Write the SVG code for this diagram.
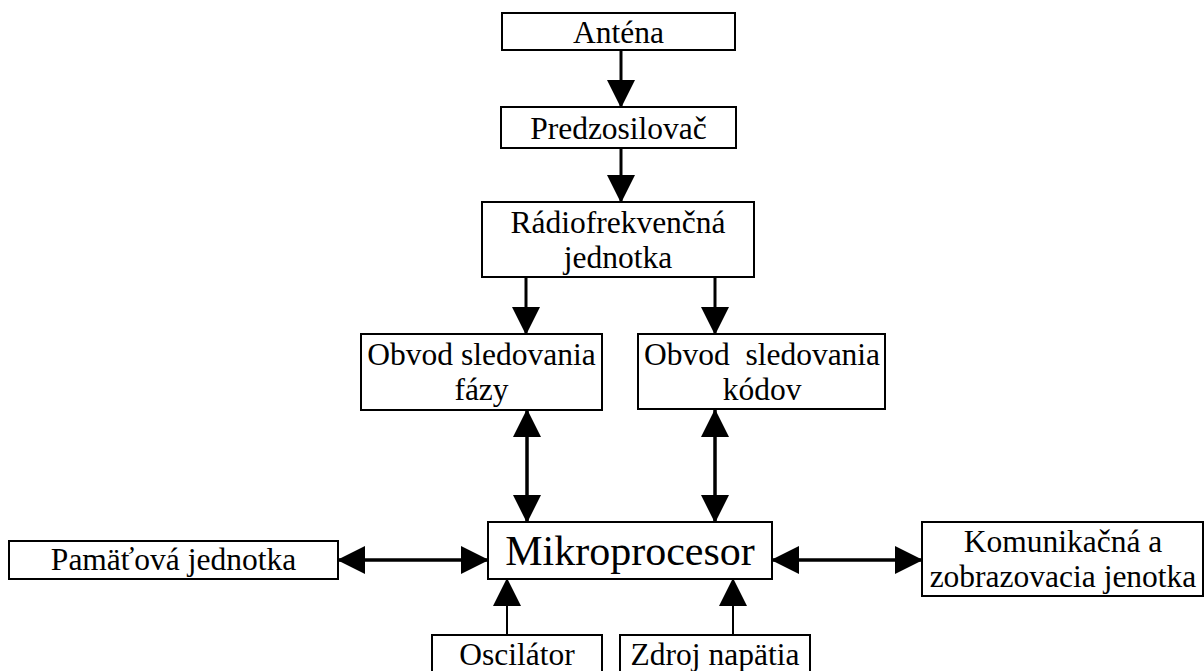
<svg xmlns="http://www.w3.org/2000/svg" width="1204" height="671" viewBox="0 0 1204 671">
<style>
.box{fill:#fff;stroke:#000;stroke-width:2}
.t{font-family:"Liberation Serif","Times New Roman",serif;font-size:31.5px;fill:#000;text-anchor:middle}
.big{font-size:42px}
.c{stroke:#000;fill:none}
.w3{stroke-width:3}
.w4{stroke-width:3.5}
.w2{stroke-width:2}
</style>
<defs>
<marker id="ah" markerUnits="userSpaceOnUse" markerWidth="28" markerHeight="28" refX="27" refY="14" orient="auto-start-reverse" viewBox="0 0 28 28">
<path d="M0,0 L28,14 L0,28 Z" fill="#000"/>
</marker>
</defs>
<rect width="1204" height="671" fill="#fff"/>
<g id="connectors">
<line class="c w3" x1="621" y1="50" x2="621" y2="107" marker-end="url(#ah)"/>
<line class="c w3" x1="621" y1="148" x2="621" y2="202" marker-end="url(#ah)"/>
<line class="c w3" x1="526" y1="277" x2="526" y2="334" marker-end="url(#ah)"/>
<line class="c w3" x1="715" y1="277" x2="715" y2="334" marker-end="url(#ah)"/>
<line class="c w4" x1="527" y1="410" x2="527" y2="522" marker-start="url(#ah)" marker-end="url(#ah)"/>
<line class="c w4" x1="715" y1="410" x2="715" y2="522" marker-start="url(#ah)" marker-end="url(#ah)"/>
<line class="c w4" x1="338" y1="560" x2="488" y2="560" marker-start="url(#ah)" marker-end="url(#ah)"/>
<line class="c w4" x1="772" y1="560" x2="922" y2="560" marker-start="url(#ah)" marker-end="url(#ah)"/>
<line class="c w2" x1="507" y1="635" x2="507" y2="579" marker-end="url(#ah)"/>
<line class="c w2" x1="733" y1="635" x2="733" y2="579" marker-end="url(#ah)"/>
</g>
<g id="antena">
<rect class="box" x="502" y="13" width="233" height="37"/>
<text class="t" x="618.5" y="43">Anténa</text>
</g>
<g id="predzosilovac">
<rect class="box" x="501" y="107" width="235" height="41"/>
<text class="t" x="618.5" y="139">Predzosilovač</text>
</g>
<g id="radiofrekvencna">
<rect class="box" x="482" y="202" width="272" height="75"/>
<text class="t" x="618" y="233">Rádiofrekvenčná</text>
<text class="t" x="618" y="268">jednotka</text>
</g>
<g id="obvod-fazy">
<rect class="box" x="361" y="334" width="241" height="76"/>
<text class="t" x="481.5" y="365">Obvod sledovania</text>
<text class="t" x="481.5" y="400">fázy</text>
</g>
<g id="obvod-kodov">
<rect class="box" x="638" y="334" width="247" height="75"/>
<text class="t" x="762" y="365" xml:space="preserve" style="white-space:pre">Obvod  sledovania</text>
<text class="t" x="762" y="400">kódov</text>
</g>
<g id="mikroprocesor">
<rect class="box" x="488" y="522" width="284" height="57"/>
<text class="t big" x="630" y="565">Mikroprocesor</text>
</g>
<g id="pamatova">
<rect class="box" x="9" y="541" width="329" height="38"/>
<text class="t" x="173.5" y="570">Pamäťová jednotka</text>
</g>
<g id="komunikacna">
<rect class="box" x="922" y="522" width="281" height="74"/>
<text class="t" x="1063" y="552">Komunikačná a</text>
<text class="t" x="1063" y="587">zobrazovacia jenotka</text>
</g>
<g id="oscilator">
<rect class="box" x="432" y="635" width="170" height="45"/>
<text class="t" x="517" y="665">Oscilátor</text>
</g>
<g id="zdroj">
<rect class="box" x="620" y="635" width="190" height="45"/>
<text class="t" x="715" y="665">Zdroj napätia</text>
</g>
</svg>
